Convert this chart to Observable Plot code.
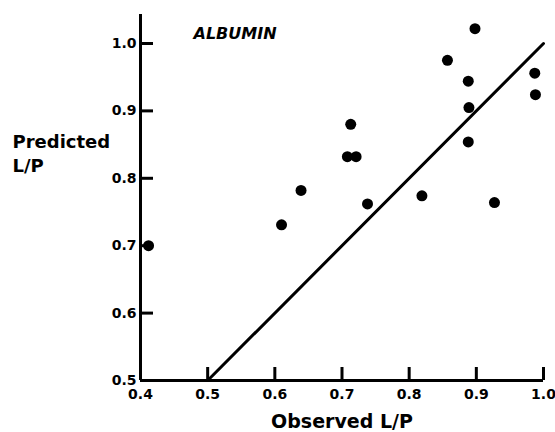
<!DOCTYPE html>
<html>
<head>
<meta charset="utf-8">
<script src="https://cdn.jsdelivr.net/npm/d3@7"></script>
<script src="https://cdn.jsdelivr.net/npm/@observablehq/plot@0.6"></script>
<style>
  html, body { margin: 0; padding: 0; background: #fff; }
</style>
</head>
<body>
<div id="chart"></div>
<script>
// Observed vs predicted L/P (albumin)
const observed  = [0.412, 0.610, 0.639, 0.708, 0.713, 0.721, 0.738, 0.819, 0.857, 0.888, 0.888, 0.889, 0.898, 0.927, 0.987, 0.988];
const predicted = [0.700, 0.731, 0.782, 0.832, 0.880, 0.832, 0.762, 0.774, 0.975, 0.944, 0.854, 0.905, 1.022, 0.764, 0.956, 0.924];
const identityX = [0.5, 1.0];
const identityY = [0.5, 1.0];
const xDomain = [0.4, 1.0];
const yDomain = [0.5, 1.043];
const xTicks = [0.4, 0.5, 0.6, 0.7, 0.8, 0.9, 1.0];
const yTicks = [0.5, 0.6, 0.7, 0.8, 0.9, 1.0];
const title = "ALBUMIN";
const xLabel = "Observed L/P";
const yLabel = "Predicted\nL/P";

const points = observed.map((x, i) => ({x, y: predicted[i]}));
const diag = identityX.map((x, i) => ({x, y: identityY[i]}));

const W = 555, H = 432, ML = 140, MR = 12, MT = 14, MB = 52;
const TICK = 13; // tick length in pixels, converted to data units below
const tickDX = (xDomain[1] - xDomain[0]) * TICK / (W - ML - MR);
const tickDY = (yDomain[1] - yDomain[0]) * TICK / (H - MT - MB);
const fmt = d3.format(".1f");
const chart = Plot.plot({
  width: W,
  height: H,
  marginLeft: ML,
  marginRight: MR,
  marginTop: MT,
  marginBottom: MB,
  style: {fontFamily: "'DejaVu Sans', 'Liberation Sans', sans-serif", background: "#fff", color: "#000"},
  x: {domain: xDomain, axis: null},
  y: {domain: yDomain, axis: null},
  marks: [
    // inward tick marks
    Plot.ruleY(yTicks, {y: d => d, x1: xDomain[0], x2: xDomain[0] + tickDX, stroke: "#000", strokeWidth: 3}),
    Plot.ruleX(xTicks, {x: d => d, y1: yDomain[0], y2: yDomain[0] + tickDY, stroke: "#000", strokeWidth: 3}),
    // tick labels
    Plot.text(yTicks, {y: d => d, frameAnchor: "left", dx: -4, text: fmt, textAnchor: "end", lineAnchor: "middle",
      fontSize: 14, fontWeight: "bold", fill: "#000"}),
    Plot.text(xTicks, {x: d => d, frameAnchor: "bottom", dy: 14, text: fmt, textAnchor: "middle", lineAnchor: "middle",
      fontSize: 14, fontWeight: "bold", fill: "#000"}),
    // axis lines
    Plot.ruleX([xDomain[0]], {y1: yDomain[0], y2: yDomain[1], stroke: "#000", strokeWidth: 3}),
    Plot.ruleY([yDomain[0]], {x1: xDomain[0], x2: xDomain[1], stroke: "#000", strokeWidth: 3}),
    // identity line
    Plot.line(diag, {x: "x", y: "y", stroke: "#000", strokeWidth: 3}),
    // points
    Plot.dot(points, {x: "x", y: "y", r: 5.5, fill: "#000", stroke: null}),
    // title
    Plot.text([title], {frameAnchor: "top-left", dx: 53, dy: 19, text: d => d, textAnchor: "start", lineAnchor: "middle",
      fontSize: 16, fontWeight: "bold", fontStyle: "italic", fill: "#000"}),
    // y label
    Plot.text([yLabel], {frameAnchor: "left", dx: -128, dy: -45, text: d => d, textAnchor: "start", lineAnchor: "middle",
      lineHeight: 1.3, fontSize: 18, fontWeight: "bold", fill: "#000"}),
    // x label
    Plot.text([xLabel], {frameAnchor: "bottom", dy: 41, text: d => d, textAnchor: "middle", lineAnchor: "middle",
      fontSize: 19, fontWeight: "bold", fill: "#000"})
  ]
});
document.getElementById("chart").appendChild(chart);
</script>
</body>
</html>
